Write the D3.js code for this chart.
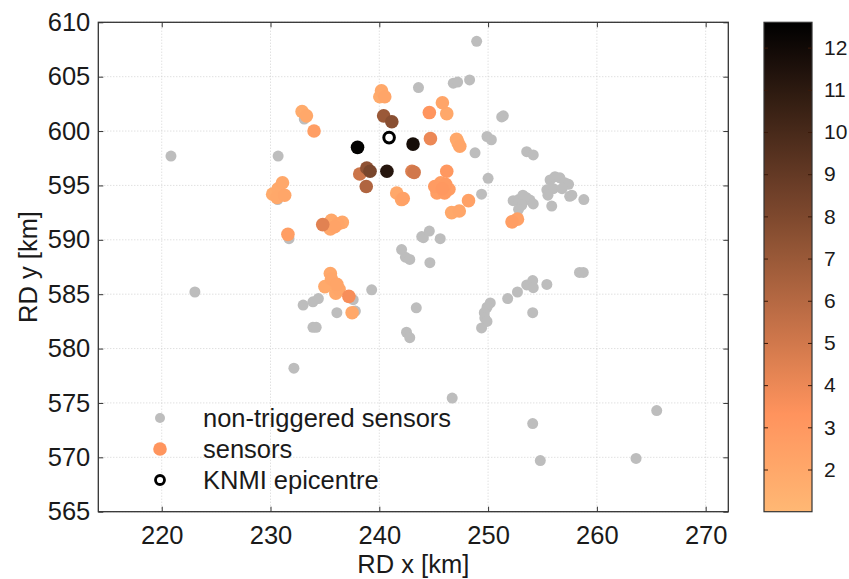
<!DOCTYPE html>
<html>
<head>
<meta charset="utf-8">
<script src="https://cdn.jsdelivr.net/npm/d3@7"></script>
<style>
  body { margin: 0; background: #fff; }
  text { font-family: "Liberation Sans", Arial, sans-serif; fill: #1a1a1a; }
</style>
</head>
<body>
<div id="chart"></div>
<script>
// non-triggered sensors [RD x, RD y]
const nonTriggered = [
  [220.85, 597.7], [230.7, 597.7], [230.66, 593.7], [231.7, 590.1], [233.1, 601.1],
  [243.6, 604.0], [243.9, 590.3], [242.05, 589.1], [242.4, 588.4], [242.8, 588.2],
  [248.95, 608.25], [246.8, 604.4], [247.2, 604.5], [248.3, 604.7], [251.4, 601.4],
  [251.25, 601.3], [249.9, 599.5], [250.3, 599.2], [248.8, 598.0], [253.55, 598.1],
  [254.15, 597.8], [250.0, 595.65], [249.4, 594.2],
  [255.7, 595.5], [256.15, 595.8], [256.6, 595.7], [257.05, 595.25], [257.4, 595.1],
  [255.4, 594.6], [256.0, 594.7], [256.8, 594.7], [255.5, 594.1], [257.5, 594.0],
  [257.7, 594.1], [258.8, 593.7], [255.85, 593.1],
  [252.3, 593.6], [252.8, 593.7], [253.2, 594.1], [253.5, 593.9], [253.85, 593.65],
  [254.15, 593.3], [253.1, 593.2], [252.8, 592.8],
  [244.05, 590.2], [244.6, 590.8], [245.6, 590.1], [244.65, 587.9],
  [258.4, 587.0], [258.75, 587.0], [243.4, 583.75], [242.5, 581.5], [242.8, 581.0],
  [250.2, 584.2], [249.9, 583.8], [249.65, 583.3], [249.7, 582.8], [249.9, 582.5],
  [249.4, 581.9], [251.8, 584.6], [252.7, 585.2], [253.55, 585.85], [254.1, 586.25],
  [254.15, 585.6], [255.4, 585.9], [254.1, 583.3],
  [246.7, 575.45], [254.1, 573.1], [254.8, 569.7], [263.6, 569.9], [265.5, 574.3],
  [223.05, 585.2], [233.0, 584.0], [233.9, 584.3], [234.4, 584.6], [233.9, 581.95],
  [234.2, 581.95], [236.1, 583.3], [237.6, 584.5], [237.8, 583.45], [239.3, 585.4],
  [232.15, 578.2]
];

// triggered sensors [RD x, RD y, value]
const sensors = [
  [240.2, 603.7, 2.0], [240.05, 603.15, 1.8], [240.5, 603.15, 2.2],
  [240.4, 601.4, 7.0], [241.15, 600.85, 7.6],
  [238.0, 598.5, 12.5], [243.1, 598.8, 11.8], [240.7, 596.3, 11.2],
  [238.85, 596.6, 7.4], [239.15, 596.3, 8.2], [238.2, 596.05, 5.2], [238.8, 594.9, 6.2],
  [243.0, 596.3, 4.6], [243.2, 596.2, 5.0],
  [241.6, 594.3, 2.0], [242.05, 593.7, 2.2], [242.2, 593.8, 2.4],
  [232.9, 601.8, 1.8], [233.3, 601.4, 2.0], [234.0, 600.0, 2.6],
  [231.1, 595.25, 2.0], [230.7, 594.7, 1.9], [230.2, 594.2, 1.8], [231.3, 594.1, 2.1], [230.6, 593.9, 2.0],
  [231.6, 590.5, 2.6],
  [234.8, 591.4, 4.4], [235.6, 591.8, 2.0], [236.2, 591.45, 2.2], [236.6, 591.6, 2.0],
  [235.5, 591.0, 2.1], [235.9, 591.2, 2.3],
  [244.6, 601.7, 3.2], [245.8, 602.6, 2.2], [246.2, 601.6, 2.0], [244.7, 599.3, 4.0],
  [247.1, 599.25, 2.0], [247.4, 598.6, 2.2], [247.25, 598.9, 1.9],
  [246.2, 596.3, 3.0],
  [245.1, 594.9, 2.8], [245.65, 595.25, 2.6], [246.1, 595.1, 2.9], [246.4, 594.65, 2.7],
  [245.3, 594.3, 2.6], [246.0, 594.3, 2.8], [245.8, 594.7, 3.0],
  [248.2, 593.6, 2.4], [246.65, 592.5, 2.0], [247.35, 592.65, 2.1],
  [252.2, 591.65, 2.6], [252.7, 591.9, 2.4],
  [235.5, 586.9, 2.0], [235.6, 586.4, 2.1], [235.0, 585.7, 1.9], [236.1, 585.9, 2.2],
  [236.0, 585.1, 2.0], [236.3, 585.45, 2.1], [237.2, 584.8, 3.6], [237.5, 583.3, 2.0]
];

const epicentre = [[240.9, 599.4]];

const xTicks = [220, 230, 240, 250, 260, 270];
const yTicks = [565, 570, 575, 580, 585, 590, 595, 600, 605, 610];
const cTicks = [2, 3, 4, 5, 6, 7, 8, 9, 10, 11, 12];
const legendItems = ["non-triggered sensors", "sensors", "KNMI epicentre"];

width = 849
height = 579
margin = ({ top: 22.3, right: 120.7, bottom: 67.3, left: 98.3 })

x = d3.scaleLinear()
  .domain([214.17, 272.08])
  .range([margin.left, width - margin.right])

y = d3.scaleLinear()
  .domain([565, 610])
  .range([height - margin.bottom, margin.top])

cMin = 1, cMax = 12.6
// flipped copper-like colormap (slightly deeper orange than MATLAB's)
function copper(t) {
  return d3.rgb(255 * Math.min(1, 1.25 * t), 255 * 0.72 * t, 255 * 0.455 * t)
}
color = v => copper(1 - (v - cMin) / (cMax - cMin))

const svg = d3.create("svg")
  .attr("width", width)
  .attr("height", height)
  .attr("viewBox", [0, 0, width, height]);

const x0 = margin.left, x1 = width - margin.right
const y0 = height - margin.bottom, y1 = margin.top

// grid
svg.append("g")
  .attr("stroke", "#c8c8c8")
  .attr("stroke-width", 0.8)
  .attr("stroke-dasharray", "1,2")
  .call(g => g.selectAll(".gx").data(xTicks).join("line")
    .attr("x1", d => x(d)).attr("x2", d => x(d)).attr("y1", y0).attr("y2", y1))
  .call(g => g.selectAll(".gy").data(yTicks).join("line")
    .attr("y1", d => y(d)).attr("y2", d => y(d)).attr("x1", x0).attr("x2", x1));

// points
svg.append("g")
  .attr("fill", "#bdbdbd")
  .selectAll("circle")
  .data(nonTriggered)
  .join("circle")
  .attr("cx", d => x(d[0]))
  .attr("cy", d => y(d[1]))
  .attr("r", 5.5);

svg.append("g")
  .selectAll("circle")
  .data(sensors.slice().sort((a, b) => a[2] - b[2]))
  .join("circle")
  .attr("cx", d => x(d[0]))
  .attr("cy", d => y(d[1]))
  .attr("r", 6.8)
  .attr("fill", d => color(d[2]));

svg.append("g")
  .selectAll("circle")
  .data(epicentre)
  .join("circle")
  .attr("cx", d => x(d[0]))
  .attr("cy", d => y(d[1]))
  .attr("r", 5.3)
  .attr("fill", "white")
  .attr("stroke", "black")
  .attr("stroke-width", 3);

// axes (MATLAB-like box with inward ticks)
xAxis = g => g
  .attr("transform", `translate(0,${y0})`)
  .call(d3.axisBottom(x).tickValues(xTicks).tickSize(-5).tickPadding(14).tickSizeOuter(0))
  .call(g => g.select(".domain").remove())
  .call(g => g.selectAll("text").attr("font-size", 25.5).attr("dy", "0.71em"))

yAxis = g => g
  .attr("transform", `translate(${x0},0)`)
  .call(d3.axisLeft(y).tickValues(yTicks).tickSize(-5).tickPadding(8).tickSizeOuter(0))
  .call(g => g.select(".domain").remove())
  .call(g => g.selectAll("text").attr("font-size", 25.5))

svg.append("g").call(xAxis).attr("color", "#333");
svg.append("g").call(yAxis).attr("color", "#333");

svg.append("g")
  .attr("transform", `translate(0,${y1})`)
  .call(d3.axisTop(x).tickValues(xTicks).tickSize(-5).tickFormat("").tickSizeOuter(0))
  .call(g => g.select(".domain").remove())
  .attr("color", "#333");
svg.append("g")
  .attr("transform", `translate(${x1},0)`)
  .call(d3.axisRight(y).tickValues(yTicks).tickSize(-5).tickFormat("").tickSizeOuter(0))
  .call(g => g.select(".domain").remove())
  .attr("color", "#333");

svg.append("rect")
  .attr("x", x0).attr("y", y1)
  .attr("width", x1 - x0).attr("height", y0 - y1)
  .attr("fill", "none")
  .attr("stroke", "#333")
  .attr("stroke-width", 1.3);

// axis titles
svg.append("text")
  .attr("x", (x0 + x1) / 2)
  .attr("y", 573)
  .attr("text-anchor", "middle")
  .attr("font-size", 25.5)
  .text("RD x [km]");

svg.append("text")
  .attr("transform", `translate(37,${(y0 + y1) / 2}) rotate(-90)`)
  .attr("text-anchor", "middle")
  .attr("font-size", 25.5)
  .text("RD y [km]");

// legend
const leg = svg.append("g").attr("transform", "translate(160,418)")
const rowH = 31
leg.append("circle").attr("cx", 0).attr("cy", 0).attr("r", 5).attr("fill", "#bdbdbd")
leg.append("circle").attr("cx", 0).attr("cy", rowH).attr("r", 6.8).attr("fill", color(3.2))
leg.append("circle").attr("cx", 0).attr("cy", 2 * rowH).attr("r", 4.5)
  .attr("fill", "white").attr("stroke", "black").attr("stroke-width", 2.8)
leg.selectAll("text")
  .data(legendItems)
  .join("text")
  .attr("x", 43)
  .attr("y", (d, i) => i * rowH)
  .attr("dy", "0.35em")
  .attr("font-size", 25.5)
  .text(d => d);

// colorbar
const cbX = 764, cbW = 48
c = d3.scaleLinear().domain([cMin, cMax]).range([y0, y1])

const defs = svg.append("defs")
const grad = defs.append("linearGradient")
  .attr("id", "cbar").attr("x1", 0).attr("y1", 1).attr("x2", 0).attr("y2", 0)
grad.selectAll("stop")
  .data(d3.range(0, 1.0001, 0.05))
  .join("stop")
  .attr("offset", d => d)
  .attr("stop-color", d => color(cMin + d * (cMax - cMin)));

svg.append("rect")
  .attr("x", cbX).attr("y", y1)
  .attr("width", cbW).attr("height", y0 - y1)
  .attr("fill", "url(#cbar)")
  .attr("stroke", "#333")
  .attr("stroke-width", 1.2);

svg.append("g")
  .attr("transform", `translate(${cbX + cbW},0)`)
  .call(d3.axisRight(c).tickValues(cTicks).tickSize(-4).tickPadding(12).tickSizeOuter(0))
  .call(g => g.select(".domain").remove())
  .call(g => g.selectAll("line").attr("stroke", "#3a1a0a"))
  .call(g => g.selectAll("text").attr("font-size", 21));

svg.append("g")
  .attr("transform", `translate(${cbX},0)`)
  .call(d3.axisLeft(c).tickValues(cTicks).tickSize(-4).tickFormat("").tickSizeOuter(0))
  .call(g => g.select(".domain").remove())
  .call(g => g.selectAll("line").attr("stroke", "#3a1a0a"));

d3.select("#chart").node().append(svg.node())
</script>
</body>
</html>
